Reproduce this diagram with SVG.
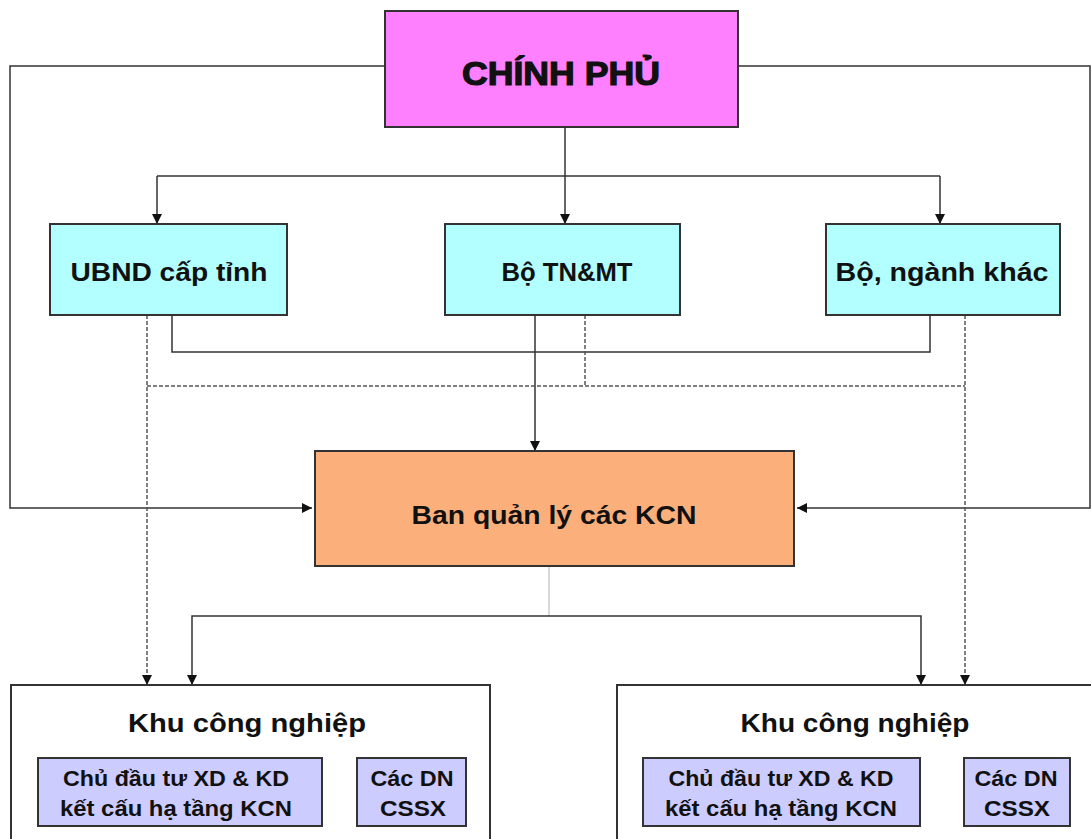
<svg xmlns="http://www.w3.org/2000/svg" width="1091" height="839" viewBox="0 0 1091 839">
<style>
.box{stroke:#333;stroke-width:2}
.t{font-family:"Liberation Sans",Arial,sans-serif;font-weight:bold;fill:#111;text-anchor:middle}
.ln{fill:none;stroke:#333;stroke-width:1.5}
.ds{fill:none;stroke:#555;stroke-width:1.5;stroke-dasharray:4 2}
</style>
<defs>
<marker id="ah" viewBox="0 0 10 10" refX="10" refY="5" markerWidth="10" markerHeight="10" markerUnits="userSpaceOnUse" orient="auto">
<path d="M0,0 L10,5 L0,10 z" fill="#111"/>
</marker>
</defs>
<rect width="1091" height="839" fill="#fff"/>
<g id="connectors">
<polyline class="ln" points="385,66 10,66 10,508 312,508" marker-end="url(#ah)"/>
<polyline class="ln" points="738,66 1090,66 1090,508 797,508" marker-end="url(#ah)"/>
<line class="ln" x1="565" y1="127" x2="565" y2="224" marker-end="url(#ah)"/>
<polyline class="ln" points="157,176 157,224" marker-end="url(#ah)"/>
<line class="ln" x1="157" y1="176" x2="940" y2="176"/>
<polyline class="ln" points="940,176 940,224" marker-end="url(#ah)"/>
<polyline class="ln" points="172,315 172,352 930,352 930,315"/>
<line class="ln" x1="535" y1="315" x2="535" y2="451" marker-end="url(#ah)"/>
<line class="ds" x1="147" y1="315" x2="147" y2="685" marker-end="url(#ah)"/>
<line class="ds" x1="965" y1="315" x2="965" y2="685" marker-end="url(#ah)"/>
<line class="ds" x1="147" y1="386" x2="965" y2="386"/>
<line class="ds" x1="585" y1="315" x2="585" y2="386"/>
<line x1="549" y1="566" x2="549" y2="616" stroke="#ccc" stroke-width="1.5"/>
<polyline class="ln" points="549,616 192,616 192,685" marker-end="url(#ah)"/>
<polyline class="ln" points="549,616 921,616 921,685" marker-end="url(#ah)"/>
</g>
<g id="chinhphu">
<rect class="box" x="385" y="11" width="353" height="116" fill="#FF80FF"/>
<text class="t" x="561" y="85" font-size="33" textLength="198" lengthAdjust="spacingAndGlyphs" stroke="#111" stroke-width="1.2">CHÍNH PHỦ</text>
</g>
<g id="ubnd">
<rect class="box" x="50" y="224" width="237" height="91" fill="#B3FFFF"/>
<text class="t" x="169" y="281" font-size="25" textLength="197" lengthAdjust="spacingAndGlyphs">UBND cấp tỉnh</text>
</g>
<g id="botnmt">
<rect class="box" x="445" y="224" width="235" height="91" fill="#B3FFFF"/>
<text class="t" x="567" y="281" font-size="25" textLength="131" lengthAdjust="spacingAndGlyphs">Bộ TN&amp;MT</text>
</g>
<g id="bonganh">
<rect class="box" x="826" y="224" width="234" height="91" fill="#B3FFFF"/>
<text class="t" x="942" y="281" font-size="25" textLength="213" lengthAdjust="spacingAndGlyphs">Bộ, ngành khác</text>
</g>
<g id="banquanly">
<rect class="box" x="315" y="451" width="479" height="115" fill="#FBB07B"/>
<text class="t" x="554" y="524" font-size="25" textLength="285" lengthAdjust="spacingAndGlyphs">Ban quản lý các KCN</text>
</g>
<g id="kcn1">
<rect class="box" x="11" y="685" width="479" height="160" fill="#fff"/>
<text class="t" x="247" y="732" font-size="25" textLength="238" lengthAdjust="spacingAndGlyphs">Khu công nghiệp</text>
<rect class="box" x="38" y="758" width="284" height="68" fill="#CCCCFF"/>
<text class="t" x="176" y="786" font-size="22" textLength="226" lengthAdjust="spacingAndGlyphs">Chủ đầu tư XD &amp; KD</text>
<text class="t" x="176" y="816" font-size="22" textLength="232" lengthAdjust="spacingAndGlyphs">kết cấu hạ tầng KCN</text>
<rect class="box" x="357" y="758" width="109" height="68" fill="#CCCCFF"/>
<text class="t" x="412" y="786" font-size="22" textLength="83" lengthAdjust="spacingAndGlyphs">Các DN</text>
<text class="t" x="413" y="816" font-size="22" textLength="66" lengthAdjust="spacingAndGlyphs">CSSX</text>
</g>
<g id="kcn2">
<rect class="box" x="617" y="685" width="480" height="160" fill="#fff"/>
<text class="t" x="855" y="732" font-size="25" textLength="229" lengthAdjust="spacingAndGlyphs">Khu công nghiệp</text>
<rect class="box" x="643" y="758" width="277" height="68" fill="#CCCCFF"/>
<text class="t" x="781" y="786" font-size="22" textLength="225" lengthAdjust="spacingAndGlyphs">Chủ đầu tư XD &amp; KD</text>
<text class="t" x="781" y="816" font-size="22" textLength="232" lengthAdjust="spacingAndGlyphs">kết cấu hạ tầng KCN</text>
<rect class="box" x="964" y="758" width="106" height="68" fill="#CCCCFF"/>
<text class="t" x="1016" y="786" font-size="22" textLength="83" lengthAdjust="spacingAndGlyphs">Các DN</text>
<text class="t" x="1017" y="816" font-size="22" textLength="66" lengthAdjust="spacingAndGlyphs">CSSX</text>
</g>
</svg>
